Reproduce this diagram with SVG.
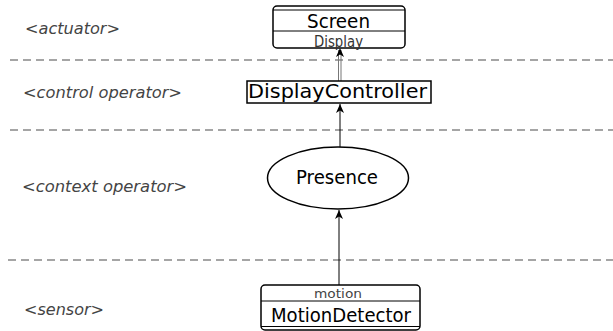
<svg xmlns="http://www.w3.org/2000/svg" width="613" height="331" viewBox="0 0 613 331">
<style>
.lane{font-family:"DejaVu Sans",sans-serif;font-style:italic;font-size:16px;fill:#444}
.big{font-family:"DejaVu Sans",sans-serif;font-size:19.5px;fill:#000}
.small{font-family:"DejaVu Sans",sans-serif;font-size:13px;fill:#444}
.sep{stroke:#888;stroke-width:1.3;stroke-dasharray:8,5;fill:none}
.box{fill:#fff;stroke:#000;stroke-width:1.5}
.ln{stroke:#000;stroke-width:1}
</style>
<defs>
<marker id="ah" markerWidth="10" markerHeight="10" refX="9" refY="4" orient="auto" markerUnits="userSpaceOnUse">
<path d="M0,0 L9,4 L0,8 L2.5,4 Z" fill="#000"/>
</marker>
</defs>
<g id="lanes">
<line class="sep" x1="10" y1="60" x2="613" y2="60"/>
<line class="sep" x1="10" y1="130" x2="613" y2="130"/>
<line class="sep" x1="8" y1="260" x2="613" y2="260"/>
<text class="lane" x="25" y="34" textLength="95" lengthAdjust="spacingAndGlyphs">&lt;actuator&gt;</text>
<text class="lane" x="23" y="98" textLength="159" lengthAdjust="spacingAndGlyphs">&lt;control operator&gt;</text>
<text class="lane" x="22" y="192" textLength="165" lengthAdjust="spacingAndGlyphs">&lt;context operator&gt;</text>
<text class="lane" x="24" y="315" textLength="80" lengthAdjust="spacingAndGlyphs">&lt;sensor&gt;</text>
</g>
<g id="connectors">
<line x1="338.5" y1="81" x2="338.5" y2="50" stroke="#777" stroke-width="1"/>
<line x1="341" y1="81" x2="341" y2="50" stroke="#777" stroke-width="1"/>
<line x1="340" y1="60" x2="340" y2="48" stroke="none" marker-end="url(#ah)"/>
<line class="ln" x1="340" y1="147" x2="340" y2="104" marker-end="url(#ah)"/>
<line class="ln" x1="339" y1="285" x2="339" y2="210" marker-end="url(#ah)"/>
</g>
<g id="screen">
<rect class="box" x="273" y="6" width="132" height="42" rx="4"/>
<line class="ln" x1="273" y1="10" x2="405" y2="10" stroke-width="1.3"/>
<line class="ln" x1="273" y1="31" x2="405" y2="31" stroke-width="1.3"/>
<text class="big" x="307" y="28" textLength="63" lengthAdjust="spacingAndGlyphs">Screen</text>
<text class="small" x="314" y="46.5" textLength="49" lengthAdjust="spacingAndGlyphs" style="font-size:15px;fill:#333">Display</text>
</g>
<g id="displaycontroller">
<rect class="box" x="247" y="81" width="184" height="22"/>
<text class="big" x="248" y="97.5" textLength="179" lengthAdjust="spacingAndGlyphs">DisplayController</text>
</g>
<g id="presence">
<ellipse class="box" cx="338" cy="178" rx="70.5" ry="31"/>
<text class="big" x="296" y="183.5" textLength="82" lengthAdjust="spacingAndGlyphs">Presence</text>
</g>
<g id="motiondetector">
<rect class="box" x="261" y="285" width="159" height="45" rx="4"/>
<line class="ln" x1="261" y1="301" x2="420" y2="301" stroke-width="1.3"/>
<line class="ln" x1="261" y1="326.5" x2="420" y2="326.5" stroke-width="1.3"/>
<text class="small" x="314" y="298" textLength="48" lengthAdjust="spacingAndGlyphs">motion</text>
<text class="big" x="271" y="321.5" textLength="140" lengthAdjust="spacingAndGlyphs">MotionDetector</text>
</g>
</svg>
